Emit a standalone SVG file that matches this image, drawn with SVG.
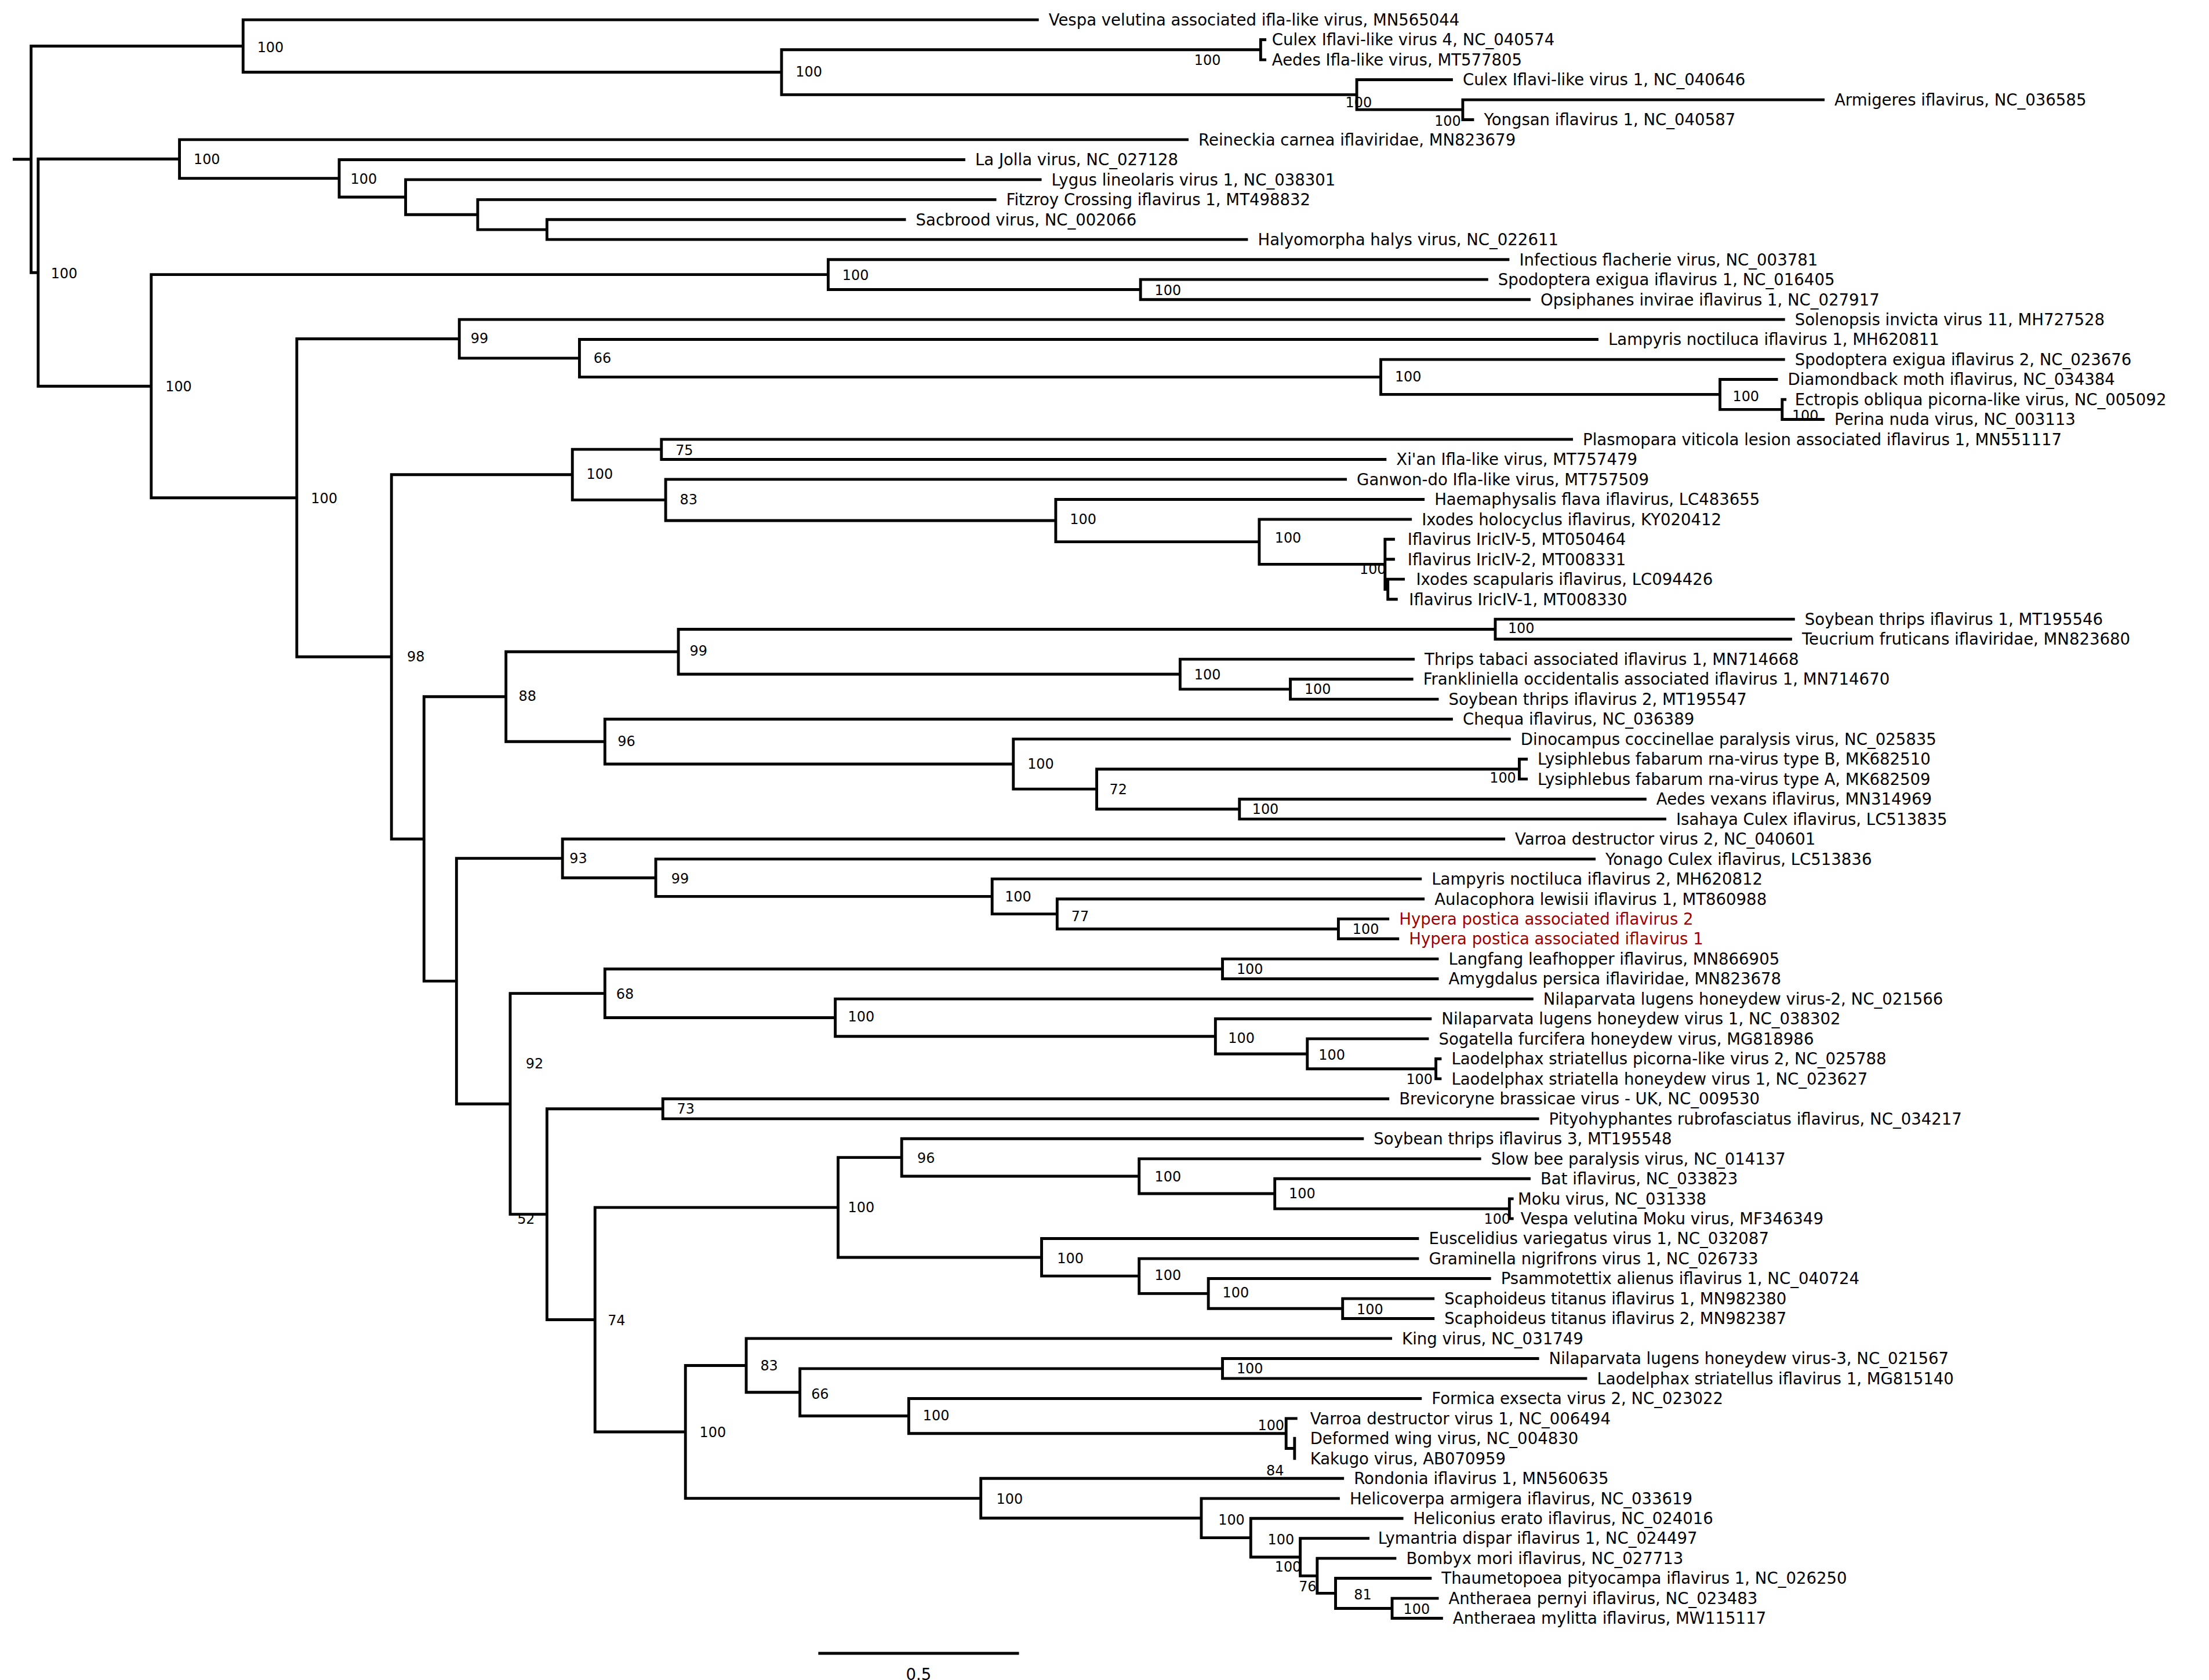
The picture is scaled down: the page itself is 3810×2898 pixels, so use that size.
<svg xmlns="http://www.w3.org/2000/svg" width="3810" height="2898" viewBox="0 0 3810 2898">
<style>
.e{fill:none;stroke:#000;stroke-width:2;stroke-linecap:square}
text{font-family:"DejaVu Sans","Liberation Sans",sans-serif;fill:#000}
.t{font-size:11.3px}
.r{fill:#a00000}
.b{font-size:9.8px}
</style>
<rect width="3810" height="2898" fill="#fff"/>
<g transform="scale(2.4376)">
<g id="connectors">
<path class="e" d="M22 32.6V192.9M10 112.7H22M22 32.6H172M22 192.9H27
M27 112.5V273.3M27 112.5H127M27 273.3H107
M172 14V51.1M172 14H734M172 51.1H553
M553 35.2V67M553 35.2H892M553 67H960
M892 28.1V42.3M892 28.1H895M892 42.3H895
M960 56.4V77.6M960 56.4H1027M960 77.6H1035
M1035 70.6V84.7M1035 70.6H1290M1035 84.7H1042
M127 98.8V126.2M127 98.8H840M127 126.2H240
M240 113V139.5M240 113H682M240 139.5H287
M287 127.1V151.9M287 127.1H736M287 151.9H338
M338 141.3V162.5M338 141.3H704M338 162.5H387
M387 155.4V169.5M387 155.4H640M387 169.5H882
M107 194.3V352.3M107 194.3H586M107 352.3H210
M586 183.7V204.9M586 183.7H1067M586 204.9H807
M807 197.8V212M807 197.8H1052M807 212H1082
M210 239.8V464.8M210 239.8H325M210 464.8H277
M325 226.1V253.5M325 226.1H1262M325 253.5H410
M410 240.2V266.8M410 240.2H1130M410 266.8H977
M977 254.4V279.1M977 254.4H1262M977 279.1H1217
M1217 268.5V289.8M1217 268.5H1257M1217 289.8H1261
M1261 282.7V296.8M1261 282.7H1263M1261 296.8H1290
M277 335.9V593.7M277 335.9H405M277 593.7H300
M405 318V353.8M405 318H468M405 353.8H471
M468 310.9V325.1M468 310.9H1112M468 325.1H980
M471 339.2V368.4M471 339.2H952M471 368.4H747
M747 353.4V383.4M747 353.4H1007M747 383.4H891
M891 367.5V399.3M891 367.5H998M891 399.3H980
M980 381.6V417M980 381.6H986M980 395.8H986M980 417H982
M982 409.9V424.1M982 409.9H993M982 424.1H988
M300 493V694.3M300 493H358M300 694.3H323
M358 461.2V524.8M358 461.2H480M358 524.8H428
M480 445.3V477.1M480 445.3H1058M480 477.1H835
M1058 438.2V452.3M1058 438.2H1269M1058 452.3H1267
M835 466.5V487.7M835 466.5H1000M835 487.7H913
M913 480.6V494.8M913 480.6H999M913 494.8H1017
M428 508.9V540.7M428 508.9H1027M428 540.7H717
M717 523V558.4M717 523H1068M717 558.4H776
M776 544.3V572.6M776 544.3H1075M776 572.6H877
M1075 537.2V551.3M1075 537.2H1080M1075 551.3H1080
M877 565.5V579.6M877 565.5H1164M877 579.6H1178
M323 607.4V781.2M323 607.4H398M323 781.2H361
M398 593.7V621.2M398 593.7H1064M398 621.2H464
M464 607.9V634.4M464 607.9H1128M464 634.4H702
M702 622V646.8M702 622H1005M702 646.8H748
M748 636.2V657.4M748 636.2H1007M748 657.4H947
M947 650.3V664.4M947 650.3H982M947 664.4H989
M361 703V859.3M361 703H428M361 859.3H387
M428 685.7V720.2M428 685.7H865M428 720.2H591
M865 678.6V692.7M865 678.6H1017M865 692.7H1017
M591 706.9V733.4M591 706.9H1084M591 733.4H860
M860 721V745.8M860 721H1012M860 745.8H925
M925 735.1V756.4M925 735.1H1010M925 756.4H1016
M1016 749.3V763.4M1016 749.3H1019M1016 763.4H1019
M387 784.7V933.9M387 784.7H469M387 933.9H421
M469 777.6V791.7M469 777.6H982M469 791.7H1088
M421 854.5V1013.3M421 854.5H593M421 1013.3H485
M593 819.1V889.8M593 819.1H638M593 889.8H737
M638 805.8V832.4M638 805.8H964M638 832.4H806
M806 820V844.7M806 820H1047M806 844.7H902
M902 834.1V855.4M902 834.1H1082M902 855.4H1068
M1068 848.3V862.4M1068 848.3H1070M1068 862.4H1070
M737 876.5V903M737 876.5H1003M737 903H806
M806 890.7V915.4M806 890.7H1003M806 915.4H855
M855 904.8V926M855 904.8H1054M855 926H950
M950 919V933.1M950 919H1014M950 933.1H1014
M485 966.3V1060.3M485 966.3H528M485 1060.3H694
M528 947.2V985.3M528 947.2H984M528 985.3H566
M566 968.5V1002M566 968.5H865M566 1002H643
M865 961.4V975.5M865 961.4H1088M865 975.5H1122
M643 989.7V1014.4M643 989.7H1005M643 1014.4H910
M910 1003.8V1025M910 1003.8H917M910 1025H916
M916 1017.9V1032.1
M694 1046.2V1074.3M694 1046.2H950M694 1074.3H850
M850 1060.4V1088.2M850 1060.4H947M850 1088.2H885
M885 1074.5V1101.9M885 1074.5H992M885 1101.9H920
M920 1088.6V1115.2M920 1088.6H968M920 1115.2H932
M932 1102.8V1127.5M932 1102.8H987M932 1127.5H945
M945 1116.9V1138.2M945 1116.9H1012M945 1138.2H985
M985 1131.1V1145.2M985 1131.1H1017M985 1145.2H1020
M580 1170H720"/>
</g>
<g id="leaves" class="t">
<text x="742" y="18">Vespa velutina associated ifla-like virus, MN565044</text>
<text x="900" y="32.1">Culex Iflavi-like virus 4, NC_040574</text>
<text x="900" y="46.3">Aedes Ifla-like virus, MT577805</text>
<text x="1035" y="60.4">Culex Iflavi-like virus 1, NC_040646</text>
<text x="1298" y="74.6">Armigeres iflavirus, NC_036585</text>
<text x="1050" y="88.7">Yongsan iflavirus 1, NC_040587</text>
<text x="848" y="102.8">Reineckia carnea iflaviridae, MN823679</text>
<text x="690" y="117">La Jolla virus, NC_027128</text>
<text x="744" y="131.1">Lygus lineolaris virus 1, NC_038301</text>
<text x="712" y="145.3">Fitzroy Crossing iflavirus 1, MT498832</text>
<text x="648" y="159.4">Sacbrood virus, NC_002066</text>
<text x="890" y="173.5">Halyomorpha halys virus, NC_022611</text>
<text x="1075" y="187.7">Infectious flacherie virus, NC_003781</text>
<text x="1060" y="201.8">Spodoptera exigua iflavirus 1, NC_016405</text>
<text x="1090" y="216">Opsiphanes invirae iflavirus 1, NC_027917</text>
<text x="1270" y="230.1">Solenopsis invicta virus 11, MH727528</text>
<text x="1138" y="244.2">Lampyris noctiluca iflavirus 1, MH620811</text>
<text x="1270" y="258.4">Spodoptera exigua iflavirus 2, NC_023676</text>
<text x="1265" y="272.5">Diamondback moth iflavirus, NC_034384</text>
<text x="1270" y="286.7">Ectropis obliqua picorna-like virus, NC_005092</text>
<text x="1298" y="300.8">Perina nuda virus, NC_003113</text>
<text x="1120" y="314.9">Plasmopara viticola lesion associated iflavirus 1, MN551117</text>
<text x="988" y="329.1">Xi'an Ifla-like virus, MT757479</text>
<text x="960" y="343.2">Ganwon-do Ifla-like virus, MT757509</text>
<text x="1015" y="357.4">Haemaphysalis flava iflavirus, LC483655</text>
<text x="1006" y="371.5">Ixodes holocyclus iflavirus, KY020412</text>
<text x="996" y="385.6">Iflavirus IricIV-5, MT050464</text>
<text x="996" y="399.8">Iflavirus IricIV-2, MT008331</text>
<text x="1002" y="413.9">Ixodes scapularis iflavirus, LC094426</text>
<text x="997" y="428.1">Iflavirus IricIV-1, MT008330</text>
<text x="1277" y="442.2">Soybean thrips iflavirus 1, MT195546</text>
<text x="1275" y="456.3">Teucrium fruticans iflaviridae, MN823680</text>
<text x="1008" y="470.5">Thrips tabaci associated iflavirus 1, MN714668</text>
<text x="1007" y="484.6">Frankliniella occidentalis associated iflavirus 1, MN714670</text>
<text x="1025" y="498.8">Soybean thrips iflavirus 2, MT195547</text>
<text x="1035" y="512.9">Chequa iflavirus, NC_036389</text>
<text x="1076" y="527">Dinocampus coccinellae paralysis virus,  NC_025835</text>
<text x="1088" y="541.2">Lysiphlebus fabarum rna-virus type B, MK682510</text>
<text x="1088" y="555.3">Lysiphlebus fabarum rna-virus type A, MK682509</text>
<text x="1172" y="569.5">Aedes vexans iflavirus, MN314969</text>
<text x="1186" y="583.6">Isahaya Culex iflavirus, LC513835</text>
<text x="1072" y="597.7">Varroa destructor virus 2, NC_040601</text>
<text x="1136" y="611.9">Yonago Culex iflavirus, LC513836</text>
<text x="1013" y="626">Lampyris noctiluca iflavirus 2, MH620812</text>
<text x="1015" y="640.2">Aulacophora lewisii iflavirus 1, MT860988</text>
<text class="r" x="990" y="654.3">Hypera postica associated iflavirus 2</text>
<text class="r" x="997" y="668.4">Hypera postica associated iflavirus 1</text>
<text x="1025" y="682.6">Langfang leafhopper iflavirus, MN866905</text>
<text x="1025" y="696.7">Amygdalus persica iflaviridae, MN823678</text>
<text x="1092" y="710.9">Nilaparvata lugens honeydew virus-2, NC_021566</text>
<text x="1020" y="725">Nilaparvata lugens honeydew virus 1, NC_038302</text>
<text x="1018" y="739.1">Sogatella furcifera honeydew virus, MG818986</text>
<text x="1027" y="753.3">Laodelphax striatellus picorna-like virus 2, NC_025788</text>
<text x="1027" y="767.4">Laodelphax striatella honeydew virus 1, NC_023627</text>
<text x="990" y="781.6">Brevicoryne brassicae virus - UK, NC_009530</text>
<text x="1096" y="795.7">Pityohyphantes rubrofasciatus iflavirus, NC_034217</text>
<text x="972" y="809.8">Soybean thrips iflavirus 3, MT195548</text>
<text x="1055" y="824">Slow bee paralysis virus, NC_014137</text>
<text x="1090" y="838.1">Bat iflavirus, NC_033823</text>
<text x="1074" y="852.3">Moku virus, NC_031338</text>
<text x="1076" y="866.4">Vespa velutina Moku virus, MF346349</text>
<text x="1011" y="880.5">Euscelidius variegatus virus 1, NC_032087</text>
<text x="1011" y="894.7">Graminella nigrifrons virus 1, NC_026733</text>
<text x="1062" y="908.8">Psammotettix alienus iflavirus 1, NC_040724</text>
<text x="1022" y="923">Scaphoideus titanus iflavirus 1, MN982380</text>
<text x="1022" y="937.1">Scaphoideus titanus iflavirus 2, MN982387</text>
<text x="992" y="951.2">King virus, NC_031749</text>
<text x="1096" y="965.4">Nilaparvata lugens honeydew virus-3, NC_021567</text>
<text x="1130" y="979.5">Laodelphax striatellus iflavirus 1, MG815140</text>
<text x="1013" y="993.7">Formica exsecta virus 2, NC_023022</text>
<text x="927" y="1007.8">Varroa destructor virus 1, NC_006494</text>
<text x="927" y="1021.9">Deformed wing virus, NC_004830</text>
<text x="927" y="1036.1">Kakugo virus, AB070959</text>
<text x="958" y="1050.2">Rondonia iflavirus 1, MN560635</text>
<text x="955" y="1064.4">Helicoverpa armigera iflavirus, NC_033619</text>
<text x="1000" y="1078.5">Heliconius erato iflavirus, NC_024016</text>
<text x="975" y="1092.6">Lymantria dispar iflavirus 1, NC_024497</text>
<text x="995" y="1106.8">Bombyx mori iflavirus, NC_027713</text>
<text x="1020" y="1120.9">Thaumetopoea pityocampa iflavirus 1, NC_026250</text>
<text x="1025" y="1135.1">Antheraea pernyi iflavirus, NC_023483</text>
<text x="1028" y="1149.2">Antheraea mylitta iflavirus, MW115117</text>
</g>
<g id="support" class="b">
<text x="182" y="37">100</text><text x="845" y="46">100</text><text x="563" y="54">100</text><text x="952" y="76">100</text><text x="1015" y="89">100</text>
<text x="137" y="116">100</text><text x="248" y="130">100</text><text x="36" y="197">100</text><text x="596" y="198">100</text><text x="817" y="209">100</text>
<text x="117" y="277">100</text><text x="333" y="243">99</text><text x="420" y="257">66</text><text x="987" y="270">100</text><text x="1226" y="284">100</text>
<text x="1268" y="297.5">100</text><text x="220" y="356">100</text><text x="478" y="322">75</text><text x="415" y="339">100</text><text x="481" y="357">83</text>
<text x="757" y="371">100</text><text x="902" y="384">100</text><text x="962" y="406">100</text><text x="1067" y="448">100</text><text x="288" y="468">98</text>
<text x="488" y="464">99</text><text x="845" y="481">100</text><text x="923" y="491">100</text><text x="367" y="496">88</text><text x="437" y="528">96</text>
<text x="727" y="544">100</text><text x="1054" y="554">100</text><text x="785" y="562">72</text><text x="886" y="576">100</text><text x="403" y="611">93</text>
<text x="475" y="625">99</text><text x="711" y="638">100</text><text x="758" y="652">77</text><text x="957" y="661">100</text><text x="875" y="689">100</text>
<text x="436" y="707">68</text><text x="600" y="723">100</text><text x="869" y="738">100</text><text x="933" y="750">100</text><text x="995" y="767">100</text>
<text x="372" y="756">92</text><text x="479" y="788">73</text><text x="649" y="823">96</text><text x="817" y="836">100</text><text x="600" y="858">100</text>
<text x="912" y="848">100</text><text x="1050" y="866">100</text><text x="366" y="866">52</text><text x="748" y="894">100</text><text x="817" y="906">100</text>
<text x="865" y="918">100</text><text x="960" y="930">100</text><text x="430" y="938">74</text><text x="538" y="970">83</text><text x="875" y="972">100</text>
<text x="574" y="990">66</text><text x="653" y="1005">100</text><text x="890" y="1012">100</text><text x="896" y="1044">84</text><text x="495" y="1017">100</text>
<text x="705" y="1064">100</text><text x="862" y="1079">100</text><text x="897" y="1093">100</text><text x="902" y="1112">100</text><text x="919" y="1126">76</text>
<text x="958" y="1132">81</text><text x="993" y="1142">100</text>
</g>
<g id="scale"><text class="t" x="650" y="1189" text-anchor="middle">0.5</text></g>
</g>
</svg>
